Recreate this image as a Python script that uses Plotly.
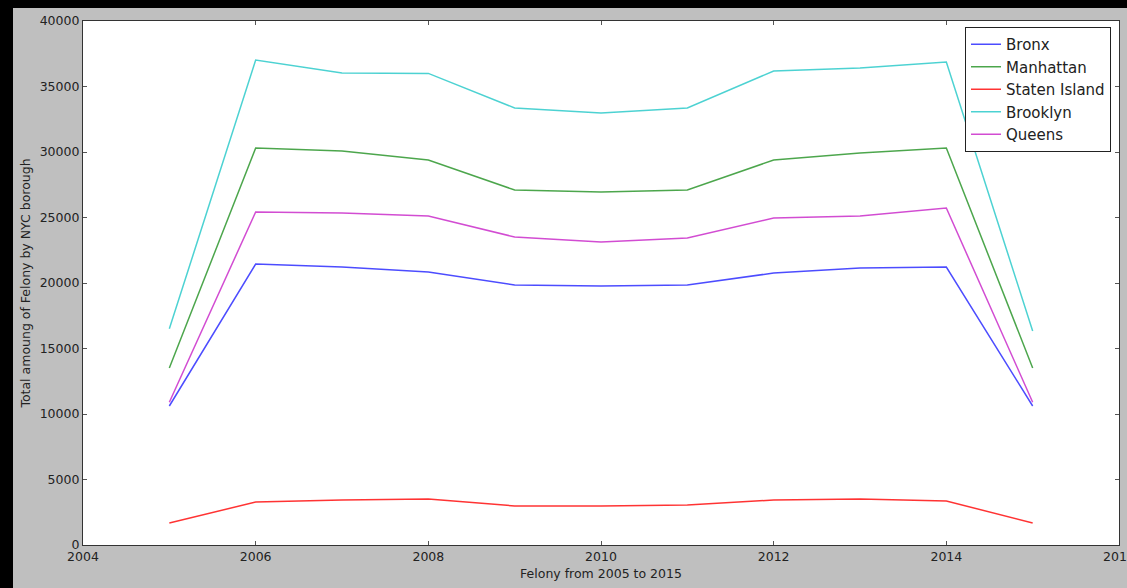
import plotly.graph_objects as go

years = list(range(2005, 2016))
bronx = [10610, 21450, 21220, 20840, 19850, 19770, 19850, 20760, 21150, 21220, 10610]
manhattan = [13510, 30300, 30080, 29390, 27100, 26950, 27100, 29390, 29920, 30300, 13510]
staten_island = [1680, 3280, 3435, 3510, 2980, 2980, 3050, 3435, 3510, 3360, 1680]
brooklyn = [16500, 37020, 36030, 36000, 33360, 32980, 33360, 36180, 36410, 36870, 16330]
queens = [10900, 25420, 25340, 25110, 23510, 23130, 23430, 24960, 25110, 25720, 10900]

series = [
    ("Bronx", bronx, "rgba(0,0,255,0.7)"),
    ("Manhattan", manhattan, "rgba(0,128,0,0.7)"),
    ("Staten Island", staten_island, "rgba(255,0,0,0.8)"),
    ("Brooklyn", brooklyn, "rgba(0,191,191,0.7)"),
    ("Queens", queens, "rgba(191,0,191,0.7)"),
]

fig = go.Figure()
for name, vals, col in series:
    fig.add_trace(go.Scatter(x=years, y=vals, mode="lines", name=name,
                             line=dict(color=col, width=1.5)))

W, H = 1127, 588
L, R, T, B = 83, 8, 21, 43
pw, ph = W - L - R, H - T - B

def px(xp):
    return (xp - L) / pw

def py(yp):
    return 1 - (yp - T) / ph

axis_common = dict(showgrid=False, zeroline=False, showline=True, linecolor="#333333",
                   linewidth=1.2, mirror="allticks", ticks="inside", ticklen=4,
                   tickcolor="#555555", automargin=False, tickformat="d",
                   ticklabeloverflow="allow",
                   tickfont=dict(family="DejaVu Sans", size=12.5, color="#222222"))

fig.update_layout(
    width=W, height=H,
    margin=dict(l=L, r=R, t=T, b=B),
    paper_bgcolor="#bfbfbf",
    plot_bgcolor="white",
    font=dict(family="DejaVu Sans", color="#222222"),
    xaxis=dict(range=[2004, 2016], dtick=2, tick0=2004,
               title=dict(text="Felony from 2005 to 2015", font=dict(size=12.5), standoff=6),
               **axis_common),
    yaxis=dict(range=[0, 40000], dtick=5000,
               title=dict(text="Total amoung of Felony by NYC borough", font=dict(size=12.5), standoff=6),
               **axis_common),
    legend=dict(x=px(1111), y=py(27), xanchor="right", yanchor="top",
                bgcolor="white", bordercolor="#222222", borderwidth=1,
                tracegroupgap=0, itemwidth=30,
                font=dict(family="DejaVu Sans", size=15, color="#222222")),
    showlegend=True,
    shapes=[
        dict(type="rect", xref="paper", yref="paper", x0=px(0), x1=px(13), y0=py(H), y1=py(0),
             fillcolor="black", line=dict(width=0), layer="above"),
        dict(type="rect", xref="paper", yref="paper", x0=px(0), x1=px(W), y0=py(8), y1=py(0),
             fillcolor="black", line=dict(width=0), layer="above"),
    ],
)

fig.write_html("out.html", config={"displayModeBar": False},
               post_script="document.body.style.margin='0';document.body.style.overflow='hidden';")
